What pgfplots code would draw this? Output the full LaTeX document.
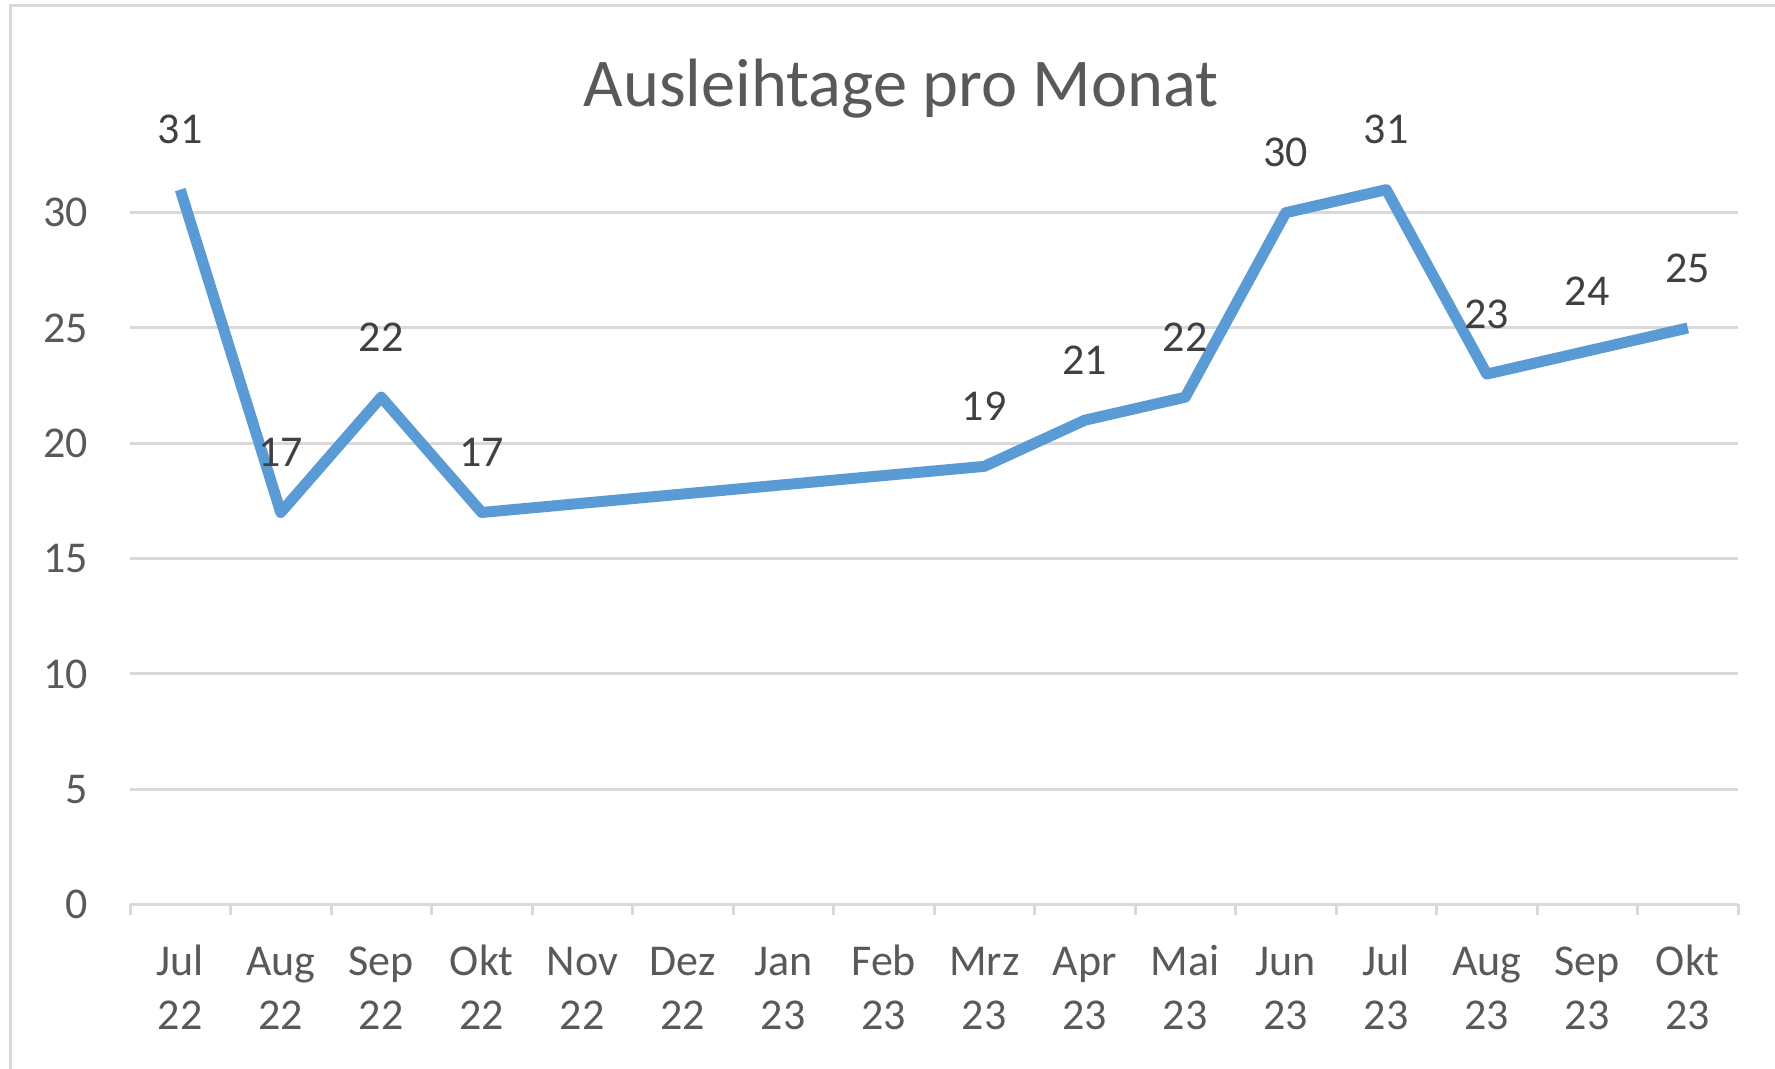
\documentclass[border=0pt]{standalone}
\usepackage{pgfplots}
\pgfplotsset{compat=1.18}
\usepackage{fontspec}
\setmainfont{Carlito}
\definecolor{gridc}{HTML}{D9D9D9}
\definecolor{textc}{HTML}{595959}
\definecolor{labc}{HTML}{404040}
\definecolor{linec}{HTML}{5B9BD5}
\begin{document}
\begin{tikzpicture}
\useasboundingbox (0,0) rectangle (443.75pt,267.25pt);
\draw[gridc, line width=0.75pt] (2.5pt,-10pt) rectangle (470pt,265.75pt);
\begin{axis}[
  at={(32.5pt,41.125pt)}, anchor=south west,
  scale only axis, width=402pt, height=201.775pt,
  xmin=-0.5, xmax=15.5, ymin=0, ymax=35,
  clip=false,
  /pgf/number format/assume math mode=true,
  axis x line*=bottom, axis y line*=left,
  x axis line style={draw=gridc, line width=0.75pt, -},
  y axis line style={draw=none},
  xtick={0,...,15},
  xticklabels={{\strut Jul\\22},{\strut Aug\\22},{\strut Sep\\22},{\strut Okt\\22},{\strut Nov\\22},{\strut Dez\\22},{\strut Jan\\23},{\strut Feb\\23},{\strut Mrz\\23},{\strut Apr\\23},{\strut Mai\\23},{\strut Jun\\23},{\strut Jul\\23},{\strut Aug\\23},{\strut Sep\\23},{\strut Okt\\23}},
  minor xtick={-0.5,0.5,...,15.5},
  major tick length=0pt,
  minor tick length=2.75pt,
  tick align=outside,
  minor x tick style={draw=gridc, line width=0.75pt},
  major x tick style={draw=none},
  ytick={0,5,...,30},
  ytick style={draw=none},
  ymajorgrids,
  major grid style={draw=gridc, line width=0.75pt},
  xticklabel style={font=\fontsize{11}{13.5}\selectfont, text=textc, align=center, anchor=north, inner sep=0pt, yshift=-8.15pt},
  yticklabel style={font=\fontsize{11}{13.5}\selectfont, text=textc, anchor=east, inner sep=0pt, xshift=-10.25pt},
]
\addplot[color=linec, line width=2.75pt, line join=round, line cap=butt,
  nodes near coords,
  every node near coord/.append style={anchor=center, yshift=15pt, inner sep=0pt, font=\fontsize{11}{13.5}\selectfont, text=labc}]
  coordinates {(0,31)(1,17)(2,22)(3,17)(8,19)(9,21)(10,22)(11,30)(12,31)(13,23)(14,24)(15,25)};
\end{axis}
\node[anchor=base, text=textc, font=\fontsize{17.1}{20}\selectfont, inner sep=0pt] at (225.25pt,240.6pt) {Ausleihtage pro Monat};
\end{tikzpicture}
\end{document}
